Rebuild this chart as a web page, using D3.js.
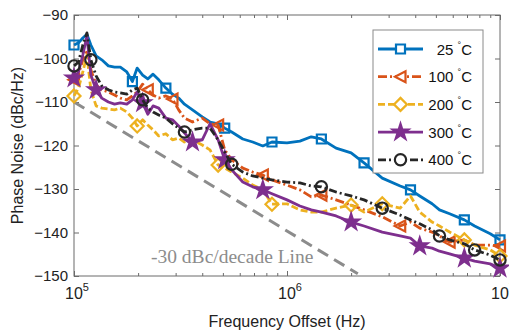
<!DOCTYPE html>
<html>
<head>
<meta charset="utf-8">
<script src="https://cdn.jsdelivr.net/npm/d3@7"></script>
<style>
body{margin:0;background:#fff}
svg{display:block;font-family:"Liberation Sans",Arial,sans-serif}
</style>
</head>
<body>
<svg width="509" height="333"></svg>
<script>
// offset frequency grid (Hz) shared by all curves
let freqs = [1.00e5,1.05e5,1.10e5,1.15e5,1.20e5,1.27e5,1.35e5,1.45e5,1.55e5,1.65e5,
  1.77e5,1.88e5,1.98e5,2.10e5,2.22e5,2.35e5,2.50e5,2.70e5,2.90e5,3.10e5,
  3.30e5,3.60e5,4.00e5,4.35e5,4.75e5,5.10e5,5.50e5,6.20e5,6.90e5,7.70e5,
  8.50e5,1.0e6,1.15e6,1.30e6,1.45e6,1.70e6,2.0e6,2.3e6,2.8e6,3.4e6,
  3.8e6,4.2e6,4.8e6,5.2e6,5.8e6,6.8e6,7.6e6,9.0e6,1.0e7]

let pn25 = [-96.9,-96.4,-95.3,-94.4,-96.9,-99.4,-100.3,-101.7,-102,-102,
  -103.1,-105.3,-102.2,-103.8,-104.7,-103.6,-104.9,-106.8,-108.2,-109.1,
  -110.5,-111.8,-113.4,-114.6,-115,-116,-116.9,-118.5,-119.2,-120.1,
  -119.2,-119.4,-119,-118,-118.5,-120.6,-121.7,-124,-127.5,-129.3,
  -130.2,-131.6,-133.4,-134.8,-135.7,-137.1,-138.5,-140.3,-141.7]

let pn100 = [-104.9,-103.6,-100.3,-98,-102.6,-106.1,-107.2,-107.7,-108.4,-109.1,
  -109.5,-108.6,-107.7,-105.9,-107.2,-108.4,-109.1,-108.6,-109.3,-111.8,
  -113.7,-114.6,-113.7,-115,-115.3,-121,-123.3,-125.2,-126.1,-126.8,
  -127.9,-129.1,-130.2,-131.8,-131.4,-132.5,-133.7,-134.8,-136.4,-138.5,
  -137.6,-139,-139.9,-140.8,-142.2,-141.7,-142.9,-142.9,-143.1]

let pn200 = [-108.6,-106.8,-103.1,-99.2,-107.2,-110.9,-111.4,-111.6,-111.8,-111.4,
  -112.3,-113.7,-115.5,-114.1,-115.3,-116.4,-117.8,-117.3,-118.7,-118.3,
  -119.2,-118.7,-119.9,-121,-124.5,-125.2,-126.1,-127.5,-129.1,-130.2,
  -133.5,-133.4,-134.8,-135.3,-135.3,-134.4,-133.7,-135.3,-133.4,-134.4,
  -131.6,-135.3,-137.6,-138.5,-139.9,-141.7,-142.9,-144,-145.4]

let pn300 = [-104.5,-103.1,-99.2,-94.8,-103.8,-107.2,-109.1,-110,-110.5,-110.2,
  -110.5,-109.5,-107.7,-110.2,-112.8,-110.9,-111.4,-113.7,-114.1,-115.5,
  -117.1,-119.2,-118.7,-115,-118.7,-123.3,-125.6,-128.4,-129.5,-130.2,
  -131.1,-132.5,-133.9,-134.8,-135.3,-136.2,-137.6,-138.5,-139.9,-140.8,
  -141.3,-143.1,-143.6,-144.3,-144.9,-145.9,-146.6,-147.2,-148.2]

let pn400 = [-101.7,-100.8,-96.9,-94.1,-100.3,-104,-106.3,-107.2,-107.7,-107.9,
  -108.2,-107.2,-106.8,-109.5,-111.4,-112.3,-113,-113.7,-115,-116,
  -116.9,-116.4,-116,-116,-118.7,-121.5,-124.3,-126.1,-127,-127.5,
  -127.9,-128.4,-128.6,-129.3,-129.5,-130.7,-131.6,-132.5,-134.4,-136,
  -137.1,-138,-139.4,-140.8,-141.7,-142.6,-144,-145.2,-146.3]

// indices of the points that carry a marker
let mk25 = [0,11,17,25,30,34,37,40,45,48]
let mk100 = [0,14,18,24,29,34,39,44,48]
let mk200 = [0,12,24,30,36,38,45,48]
let mk300 = [0,5,13,21,25,29,36,41,45,48]
let mk400 = [0,4,13,20,26,34,38,43,46,48]

let yTicks = [-150,-140,-130,-120,-110,-100,-90]
let xMajor = [1e5,1e6,1e7]
let xExp = [5,6,7]

// -30 dBc/decade guide
let refLine = [[1e5,-110],[2.15e6,-149.5]]

let svg = d3.select('svg')
let L = 74, R = 500, T = 15, B = 276

let x = d3.scaleLog().domain([1e5,1e7]).range([L,R])
let y = d3.scaleLinear().domain([-150,-90]).range([B,T])

let axisColor = '#6b6b6b'

// ticks (inward) on all four sides
let xMinor = x.ticks().filter(d => xMajor.indexOf(d) < 0)

let addTicks = (axis, tr) => {
  let g = svg.append('g').attr('transform', tr).call(axis)
  g.select('.domain').remove()
  g.selectAll('line').attr('stroke', axisColor)
  g.selectAll('text').remove()
  return g
}
addTicks(d3.axisBottom(x).tickValues(xMajor).tickSizeInner(-5).tickSizeOuter(0), `translate(0,${B})`)
addTicks(d3.axisBottom(x).tickValues(xMinor).tickSizeInner(-3).tickSizeOuter(0), `translate(0,${B})`)
addTicks(d3.axisTop(x).tickValues(xMajor).tickSizeInner(-5).tickSizeOuter(0), `translate(0,${T})`)
addTicks(d3.axisTop(x).tickValues(xMinor).tickSizeInner(-3).tickSizeOuter(0), `translate(0,${T})`)
addTicks(d3.axisRight(y).tickValues(yTicks).tickSizeInner(-5).tickSizeOuter(0), `translate(${R},0)`)

let yAxis = svg.append('g').attr('transform', `translate(${L},0)`)
  .call(d3.axisLeft(y).tickValues(yTicks).tickSizeInner(-5).tickSizeOuter(0).tickPadding(6))
yAxis.select('.domain').remove()
yAxis.selectAll('line').attr('stroke', axisColor)
yAxis.selectAll('text').attr('font-size', 15).attr('fill', '#222')
  .attr('font-family', '"Liberation Sans",Arial,sans-serif')

// x tick labels 10^n
xMajor.forEach((d,i) => {
  let t = svg.append('text').attr('x', x(d) + 3).attr('y', 299)
    .attr('text-anchor', 'middle').attr('font-size', 16).attr('fill', '#222')
  t.append('tspan').text('10')
  t.append('tspan').attr('dy', -8).attr('font-size', 11).text(xExp[i])
})

// box
svg.append('rect').attr('x', L).attr('y', T).attr('width', R-L).attr('height', B-T)
  .attr('fill', 'none').attr('stroke', axisColor).attr('stroke-width', 1)

let plot = svg.append('g')

plot.append('path').datum(refLine)
  .attr('d', d3.line().x(d => x(d[0])).y(d => y(d[1])))
  .attr('fill', 'none').attr('stroke', '#8c8c8c').attr('stroke-width', 3)
  .attr('stroke-dasharray', '12,7')

svg.append('text').attr('x', 151).attr('y', 263)
  .style('font-family', '"Liberation Serif","Times New Roman",serif')
  .attr('font-size', 19.5).attr('fill', '#8c8c8c').text('-30 dBc/decade Line')

let markerPath = (type) => {
  if (type === 'square') return 'M-4.5,-4.5H4.5V4.5H-4.5Z'
  if (type === 'tri') return 'M-5.5,0L5,-5.5L5,5.5Z'
  if (type === 'diamond') return 'M0,-6.5L6.5,0L0,6.5L-6.5,0Z'
  if (type === 'circle') return d3.symbol(d3.symbolCircle, 100)()
  return d3.symbol(d3.symbolStar, 75)()
}

let series = [
  {name:'25', values:pn25, marks:mk25, color:'#0072BD', dash:null, marker:'square'},
  {name:'100', values:pn100, marks:mk100, color:'#D95319', dash:'9,3,2,3', marker:'tri'},
  {name:'200', values:pn200, marks:mk200, color:'#EDB120', dash:'7,3', marker:'diamond'},
  {name:'300', values:pn300, marks:mk300, color:'#7E2F8E', dash:null, marker:'star'},
  {name:'400', values:pn400, marks:mk400, color:'#262626', dash:'8,3,2,3', marker:'circle'}
]

let line = d3.line().x((d,i) => x(freqs[i])).y(d => y(d))

series.forEach(s => {
  plot.append('path').datum(s.values)
    .attr('d', line)
    .attr('fill', 'none').attr('stroke', s.color).attr('stroke-width', 2.8)
    .attr('stroke-linejoin', 'round')
    .attr('stroke-dasharray', s.dash)
  plot.selectAll(null).data(s.marks).enter().append('path')
    .attr('d', markerPath(s.marker))
    .attr('transform', i => `translate(${x(freqs[i])},${y(s.values[i])})`)
    .attr('fill', s.marker === 'star' ? s.color : 'none')
    .attr('stroke', s.color).attr('stroke-width', 2.2)
})

// legend
let lg = svg.append('g')
lg.append('rect').attr('x', 373).attr('y', 30).attr('width', 110).attr('height', 143)
  .attr('fill', '#fff').attr('stroke', '#8a8a8a').attr('stroke-width', 1)
series.forEach((s,i) => {
  let yy = 49 + i*27.7
  lg.append('line').attr('x1', 378).attr('x2', 423).attr('y1', yy).attr('y2', yy)
    .attr('stroke', s.color).attr('stroke-width', 2.8).attr('stroke-dasharray', s.dash)
  lg.append('path').attr('d', markerPath(s.marker))
    .attr('transform', `translate(400.5,${yy})`)
    .attr('fill', s.marker === 'star' ? s.color : '#fff')
    .attr('stroke', s.color).attr('stroke-width', 2.2)
  let t = lg.append('text').attr('x', 472).attr('y', yy + 5.5)
    .attr('text-anchor', 'end').attr('font-size', 15).attr('fill', '#111')
  t.append('tspan').text(s.name + ' ')
  t.append('tspan').attr('dy', -7).attr('font-size', 9).text('°')
  t.append('tspan').attr('dy', 7).text('C')
})

// axis titles
svg.append('text').attr('x', 287).attr('y', 327).attr('text-anchor', 'middle')
  .attr('font-size', 16).attr('fill', '#222').text('Frequency Offset (Hz)')
svg.append('text').attr('transform', 'translate(23,145.5) rotate(-90)')
  .attr('text-anchor', 'middle').attr('font-size', 16).attr('fill', '#222')
  .text('Phase Noise (dBc/Hz)')
</script>
</body>
</html>
